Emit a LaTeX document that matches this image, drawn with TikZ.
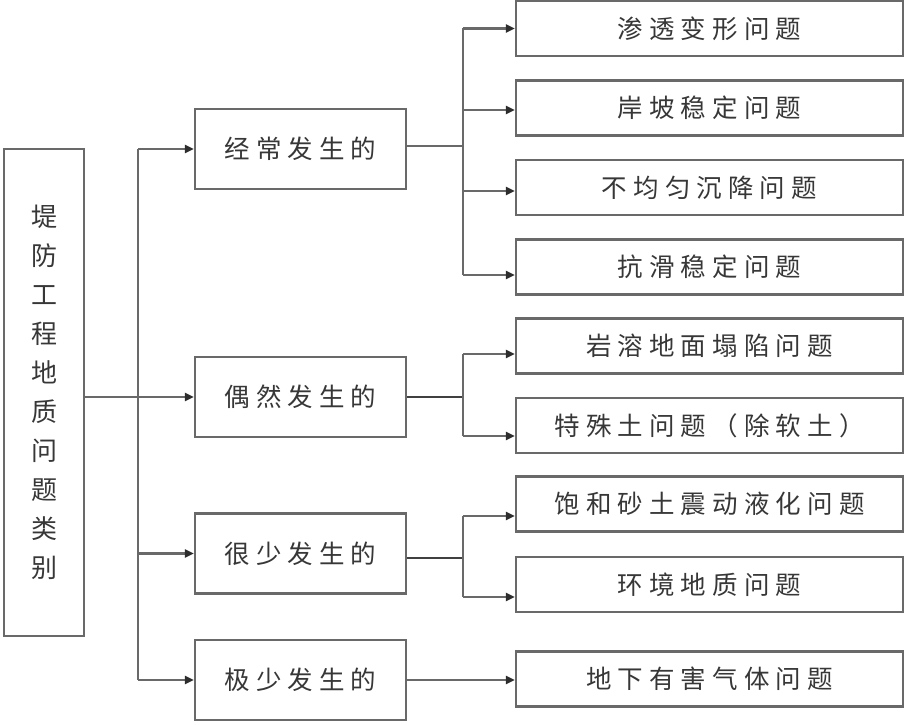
\documentclass[tikz,border=0pt]{standalone}
\usepackage{fontspec}
\newfontfamily\cjk[LetterSpace=24]{Noto Sans CJK SC}
\newfontfamily\cjkv{Noto Sans CJK SC}
\usetikzlibrary{arrows.meta,calc}
\definecolor{linegray}{RGB}{105,105,105}
\definecolor{textgray}{RGB}{55,55,55}
\definecolor{headgray}{RGB}{45,45,45}
\begin{document}
\begin{tikzpicture}[x=1pt,y=-1pt,
  box/.style={draw=linegray, line width=2.4pt, inner sep=0pt, text=textgray,
    font=\cjk\fontsize{25.5}{30}\selectfont},
  midbox/.style={box, minimum width=211pt, minimum height=80pt},
  rbox/.style={box, minimum width=387pt, minimum height=55pt},
  wire/.style={draw=linegray, line width=2.2pt},
  thin/.style={draw=black!75, line width=1.1pt},
  arr/.style={wire, -{Triangle[length=9pt,width=8pt,color=headgray]}}]
\useasboundingbox (0,0) rectangle (908,725);
% left box
\node[box, minimum width=80pt, minimum height=487pt, align=center,
  font=\cjkv\fontsize{26}{39}\selectfont] (L) at (44,392.5)
  {堤\\防\\工\\程\\地\\质\\问\\题\\类\\别};
% middle boxes
\node[midbox] (M1) at (300.5,149) {经常发生的};
\node[midbox] (M2) at (300.5,397) {偶然发生的};
\node[midbox] (M3) at (300.5,553.5) {很少发生的};
\node[midbox] (M4) at (300.5,680) {极少发生的};
% right boxes
\node[rbox] (R1) at (709.5,28.5) {渗透变形问题};
\node[rbox] (R2) at (709.5,108) {岸坡稳定问题};
\node[rbox] (R3) at (709.5,187.5) {不均匀沉降问题};
\node[rbox] (R4) at (709.5,267) {抗滑稳定问题};
\node[rbox] (R5) at (709.5,346) {岩溶地面塌陷问题};
\node[rbox] (R6) at (709.5,425.5) {特殊土问题（除软土）};
\node[rbox] (R7) at (709.5,504) {饱和砂土震动液化问题};
\node[rbox] (R8) at (709.5,584.5) {环境地质问题};
\node[rbox] (R9) at (709.5,679) {地下有害气体问题};
% branch columns
\coordinate (T) at (138,0);
\coordinate (B) at (463,0);
% left trunk
\draw[wire] (M1.west -| T) -- (M4.west -| T);
\draw[wire] (L.east |- M2.west) -- (M2.west -| T);
\foreach \m in {M1,M2,M3,M4} \draw[arr] (\m.west -| T) -- (\m.west);
% M1 branch
\draw[wire] ([yshift=3pt]M1.east) -- ([yshift=3pt]M1.east -| B);
\draw[wire] (R1.west -| B) -- ([yshift=-8pt]R4.west -| B);
\draw[arr] (R1.west -| B) -- (R1.west);
\draw[arr] ([yshift=-2pt]R2.west -| B) -- ([yshift=-2pt]R2.west);
\draw[arr] ([yshift=-3.5pt]R3.west -| B) -- ([yshift=-3.5pt]R3.west);
\draw[arr] ([yshift=-8pt]R4.west -| B) -- ([yshift=-8pt]R4.west);
% M2 branch
\draw[thin] (M2.east) -- (M2.east -| B);
\draw[wire] ([yshift=-8pt]R5.west -| B) -- ([yshift=-10.5pt]R6.west -| B);
\draw[arr] ([yshift=-8pt]R5.west -| B) -- ([yshift=-8pt]R5.west);
\draw[arr] ([yshift=-10.5pt]R6.west -| B) -- ([yshift=-10.5pt]R6.west);
% M3 branch
\draw[thin] ([yshift=-4.5pt]M3.east) -- ([yshift=-4.5pt]M3.east -| B);
\draw[wire] ([yshift=-12pt]R7.west -| B) -- ([yshift=-12.5pt]R8.west -| B);
\draw[arr] ([yshift=-12pt]R7.west -| B) -- ([yshift=-12pt]R7.west);
\draw[arr] ([yshift=-12.5pt]R8.west -| B) -- ([yshift=-12.5pt]R8.west);
% M4 branch
\draw[arr] (M4.east) -- (M4.east -| R9.west);
\end{tikzpicture}
\end{document}
